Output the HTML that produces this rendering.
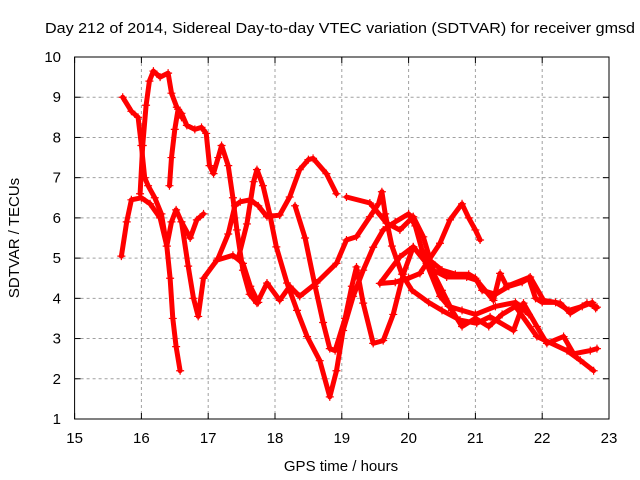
<!DOCTYPE html>
<html><head><meta charset="utf-8"><style>
html,body{margin:0;padding:0;background:#fff;}
svg{display:block;font-family:"Liberation Sans",sans-serif;}
</style></head><body>
<svg id="chart" width="640" height="480" viewBox="0 0 640 480">
<rect width="640" height="480" fill="#fff"/>
<text x="45" y="33" font-size="15" textLength="590" lengthAdjust="spacingAndGlyphs" fill="#000">Day 212 of 2014, Sidereal Day-to-day VTEC variation (SDTVAR) for receiver gmsd</text>
<text transform="translate(19,238) rotate(-90)" font-size="15" text-anchor="middle">SDTVAR / TECUs</text>
<text x="341" y="471" font-size="15" text-anchor="middle">GPS time / hours</text>
<g id="grid"></g>
<g id="ticks"></g>
<g id="series"></g>
<rect x="74.6" y="57" width="534.4" height="362" fill="none" stroke="#000" stroke-width="1"/>
</svg>
<script>
const xTicks=[15,16,17,18,19,20,21,22,23];
const yTicks=[1,2,3,4,5,6,7,8,9,10];
const trA=[[15.72,9.0],[15.85,8.65],[15.95,8.5],[16.0,7.8],[16.05,7.0],[16.1,6.8],[16.2,6.5],[16.3,6.1],[16.38,5.3],[16.43,4.5],[16.47,3.5],[16.52,2.8],[16.58,2.2]];
const trB=[[15.7,5.05],[15.78,5.9],[15.85,6.45],[16.0,6.5],[16.13,6.35],[16.28,6.0],[16.38,5.3],[16.45,5.9],[16.52,6.2],[16.6,5.9],[16.7,4.8],[16.78,4.0],[16.85,3.55],[16.93,4.5],[17.13,4.95],[17.37,5.07],[17.52,4.87],[17.63,4.3],[17.75,3.9]];
const trB2=[[16.6,5.9],[16.73,5.5],[16.83,5.95],[16.93,6.1]];
const trC=[[15.98,6.6],[16.02,7.8],[16.07,8.8],[16.12,9.4],[16.18,9.65],[16.28,9.5],[16.4,9.6],[16.45,9.1],[16.53,8.75],[16.6,8.6],[16.68,8.3],[16.8,8.2],[16.9,8.25],[16.97,8.1],[17.02,7.3],[17.08,7.1],[17.15,7.5],[17.2,7.8],[17.3,7.3],[17.37,6.5],[17.43,5.7],[17.52,4.7],[17.62,4.1],[17.73,3.88],[17.88,4.38],[18.07,3.95],[18.22,4.3],[18.37,4.05],[18.62,4.38],[18.92,4.87],[19.07,5.45],[19.22,5.53],[19.42,6.03],[19.55,6.35],[19.6,6.65],[19.65,6.1],[19.75,5.3],[19.9,4.6],[20.05,4.2],[20.3,3.9],[20.5,3.7],[20.77,3.46],[21.02,3.38],[21.22,3.54],[21.57,3.2],[21.72,3.88],[21.92,3.3],[22.07,2.88],[22.32,3.05],[22.47,2.62],[22.72,2.7],[22.82,2.75]];
const trD=[[16.42,6.8],[16.45,7.5],[16.5,8.2],[16.55,8.7],[16.6,8.5]];
const trF=[[17.15,5.0],[17.3,5.6],[17.4,6.3],[17.48,6.4],[17.63,6.45],[17.75,6.3],[17.88,6.03],[18.07,6.07],[18.22,6.52],[18.37,7.2],[18.5,7.45],[18.57,7.48],[18.77,7.1],[18.92,6.6]];
const trG=[[17.45,5.0],[17.58,5.85],[17.68,6.9],[17.73,7.2],[17.82,6.8],[17.92,6.1],[18.02,5.28],[18.18,4.38],[18.33,3.7],[18.48,3.05],[18.67,2.45],[18.82,1.55],[18.92,2.2],[19.02,3.2],[19.17,4.05],[19.32,4.7],[19.47,5.27],[19.62,5.7],[19.8,5.9],[20.0,6.1],[20.1,5.8],[20.2,5.2],[20.35,4.7],[20.5,4.2],[20.65,3.7],[20.8,3.3],[21.0,3.5],[21.2,3.3],[21.4,3.6],[21.6,3.8],[21.92,3.05],[22.37,2.7],[22.57,2.46],[22.77,2.2]];
const trI=[[18.3,6.3],[18.45,5.5],[18.6,4.3],[18.72,3.4],[18.82,2.75],[18.9,2.7],[19.05,3.5],[19.15,4.3],[19.22,4.78],[19.32,3.88],[19.47,2.88],[19.62,2.95],[19.77,3.6],[19.92,4.6],[20.07,5.28],[20.27,4.87],[20.35,4.9],[20.5,4.7],[20.7,4.6],[20.9,4.6],[21.0,4.5],[21.1,4.2],[21.3,4.1],[21.5,4.3],[21.7,4.4],[21.8,4.5],[21.9,4.0],[22.0,3.9],[22.2,3.9],[22.4,3.7],[22.6,3.8],[22.75,3.9],[22.8,3.75]];
const trJ=[[19.57,4.37],[19.8,4.4],[20.0,4.5],[20.17,4.62],[20.47,5.37],[20.62,5.95],[20.8,6.35],[20.9,6.0],[21.0,5.7],[21.07,5.45]];
const trK=[[19.07,6.52],[19.42,6.37],[19.67,5.87],[19.87,5.7],[20.07,6.03],[20.22,5.53],[20.37,4.7],[20.57,4.53],[20.87,4.53],[21.02,4.45],[21.27,3.95],[21.37,4.62],[21.47,4.3],[21.82,4.53],[22.02,3.95],[22.27,3.88],[22.42,3.63],[22.67,3.88],[22.82,3.78]];
const trL=[[19.57,4.37],[19.87,5.03],[20.07,5.28],[20.27,4.87],[20.47,4.05],[20.6,3.8],[20.8,3.7],[21.0,3.6],[21.3,3.8],[21.6,3.9],[21.8,3.6]];
const allSeries=[trA,trB,trB2,trC,trD,trF,trG,trI,trJ,trK,trL];
const X0=74.6,XW=534.4,Y0=57,YH=362;
function xs(v){return X0+(v-15)/8*XW;}
function ys(v){return Y0+(10-v)/9*YH;}
const NS="http://www.w3.org/2000/svg";
const grid=document.getElementById('grid'),ticks=document.getElementById('ticks'),ser=document.getElementById('series');
function mk(tag,attrs,parent){const e=document.createElementNS(NS,tag);for(const k in attrs)e.setAttribute(k,attrs[k]);parent.appendChild(e);return e;}
xTicks.forEach(t=>{
  const x=xs(t);
  if(t>15&&t<23){const g=mk('line',{x1:x,x2:x,y1:Y0,y2:Y0+YH,stroke:'#a0a0a0','stroke-dasharray':'3,3'},grid);
  
  }
  const t1=mk('line',{x1:x,x2:x,y1:Y0+YH,y2:Y0+YH-6,stroke:'#000'},ticks);
  
  
  mk('line',{x1:x,x2:x,y1:Y0,y2:Y0+6,stroke:'#000'},ticks);
  const l=mk('text',{x:x,y:443,'font-size':'15','text-anchor':'middle'},ticks);
  l.textContent=t;
  
  
});
yTicks.forEach(t=>{
  const y=ys(t);
  if(t>1&&t<10){const g=mk('line',{x1:X0,x2:X0+XW,y1:y,y2:y,stroke:'#a0a0a0','stroke-dasharray':'3,3'},grid);
  
  }
  mk('line',{x1:X0,x2:X0+6,y1:y,y2:y,stroke:'#000'},ticks);
  mk('line',{x1:X0+XW,x2:X0+XW-6,y1:y,y2:y,stroke:'#000'},ticks);
  const l=mk('text',{x:61,y:y+5,'font-size':'15','text-anchor':'end'},ticks);
  l.textContent=t;
  
  
});
allSeries.forEach((s,i)=>{
  const pts=s.map(p=>xs(p[0]).toFixed(1)+','+ys(p[1]).toFixed(1)).join(' ');
  const pl=mk('polyline',{points:pts,fill:'none',stroke:'#ff0000','stroke-width':'5','stroke-linejoin':'round','stroke-linecap':'round'},ser);
  
  
  s.forEach(p=>{
    const x=xs(p[0]),y=ys(p[1]);
    const m=mk('path',{d:`M${x-4},${y}h8M${x},${y-4}v8`,stroke:'#ff0000','stroke-width':'1.2'},ser);
    
    
  });
});
</script>
</body></html>
